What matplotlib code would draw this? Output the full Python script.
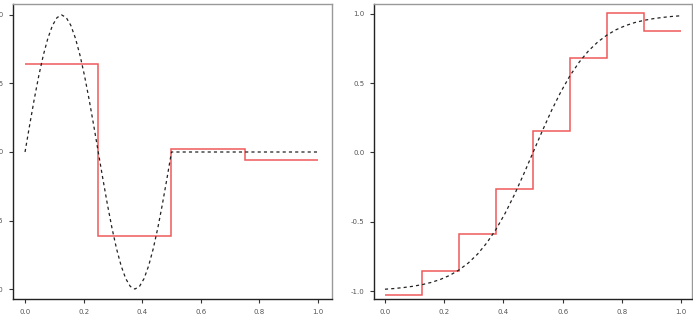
import numpy as np
import matplotlib
matplotlib.use("Agg")
import matplotlib.pyplot as plt

# Courbe de gauche : une période de sinus sur [0, 0.5], puis plat
sine_x = np.linspace(0, 1, 65)
sine_y = [0.0, 0.195, 0.383, 0.556, 0.707, 0.831, 0.924, 0.981, 1.0, 0.981, 0.924, 0.831,
          0.707, 0.556, 0.383, 0.195, 0.0, -0.195, -0.383, -0.556, -0.707, -0.831, -0.924,
          -0.981, -1.0, -0.981, -0.924, -0.831, -0.707, -0.556, -0.383, -0.195, 0.0,
          0.0, 0.0, 0.0, 0.0, 0.0, 0.0, 0.0, 0.0, 0.0, 0.0, 0.0, 0.0, 0.0, 0.0, 0.0, 0.0,
          0.0, 0.0, 0.0, 0.0, 0.0, 0.0, 0.0, 0.0, 0.0, 0.0, 0.0, 0.0, 0.0, 0.0, 0.0, 0.0]
left_edges = [0.0, 0.25, 0.5, 0.75, 1.0]
left_steps = [0.64, -0.61, 0.02, -0.06]

# Courbe de droite : sigmoïde
sig_x = np.linspace(0, 1, 33)
sig_y = [-0.987, -0.982, -0.975, -0.966, -0.954, -0.938, -0.916, -0.887, -0.848, -0.798,
         -0.734, -0.653, -0.555, -0.437, -0.303, -0.155, 0.0, 0.155, 0.303, 0.437, 0.555,
         0.653, 0.734, 0.798, 0.848, 0.887, 0.916, 0.938, 0.954, 0.966, 0.975, 0.982, 0.987]
right_edges = [0.0, 0.125, 0.25, 0.375, 0.5, 0.625, 0.75, 0.875, 1.0]
right_steps = [-1.03, -0.855, -0.59, -0.26, 0.155, 0.68, 1.005, 0.876]

ticks_x = [0.0, 0.2, 0.4, 0.6, 0.8, 1.0]
ticks_y = [-1.0, -0.5, 0.0, 0.5, 1.0]

RED = "#f05a5a"


def style_axis(ax, xlim, ylim):
    ax.set_xlim(*xlim)
    ax.set_ylim(*ylim)
    ax.set_xticks(ticks_x)
    ax.set_yticks(ticks_y)
    ax.set_xticklabels([f"{t:.1f}" for t in ticks_x])
    ax.set_yticklabels([f"{t:.1f}" for t in ticks_y])
    ax.tick_params(labelsize=5, length=3, width=0.8, colors="#333333",
                   labelcolor="#555555", pad=4, top=False, right=False)
    ax.spines["left"].set_color("#222222")
    ax.spines["bottom"].set_color("#222222")
    ax.spines["top"].set_color("#999999")
    ax.spines["right"].set_color("#999999")
    for s in ax.spines.values():
        s.set_linewidth(1.0)


def draw_steps(ax, edges, steps):
    ax.stairs(steps, edges, color=RED, linewidth=1.1, baseline=None)


fig = plt.figure(figsize=(6.93, 3.24), dpi=100)
ax1 = fig.add_axes([0.0188, 0.077, 0.4603, 0.9107])
ax2 = fig.add_axes([0.5397, 0.077, 0.4589, 0.9107])

ax1.plot(sine_x, sine_y, color="#222222", linestyle=(0, (2.5, 2.5)), linewidth=0.9)
draw_steps(ax1, left_edges, left_steps)
style_axis(ax1, (-0.041, 1.048), (-1.073, 1.08))

ax2.plot(sig_x, sig_y, color="#222222", linestyle=(0, (2.5, 2.5)), linewidth=0.9)
draw_steps(ax2, right_edges, right_steps)
style_axis(ax2, (-0.037, 1.037), (-1.058, 1.072))

fig.savefig("out.png", dpi=100)
